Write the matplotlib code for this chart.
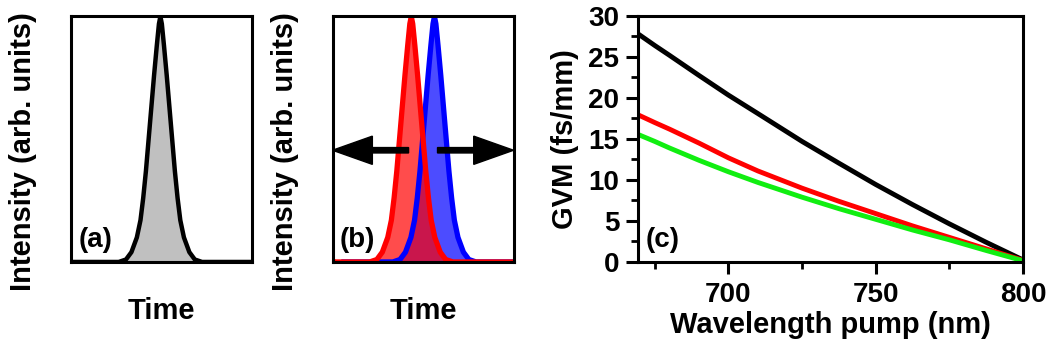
import numpy as np
import matplotlib
matplotlib.use("Agg")
import matplotlib.pyplot as plt
from matplotlib.ticker import MultipleLocator

plt.rcParams['font.family'] = ['Liberation Sans', 'DejaVu Sans']
plt.rcParams['font.weight'] = 'bold'

# pulse profile (offset from pulse centre, normalised intensity)
pulse_offset = [-0.50, -0.23, -0.19, -0.16, -0.13, -0.11, -0.095, -0.08, -0.065,
                -0.05, -0.035, -0.02, -0.008, 0.0, 0.008, 0.02, 0.035, 0.05,
                0.065, 0.08, 0.095, 0.11, 0.13, 0.16, 0.19, 0.23, 0.50]
pulse_int = [0.0, 0.0, 0.01, 0.04, 0.10, 0.17, 0.26, 0.37, 0.50,
             0.63, 0.76, 0.88, 0.97, 1.0, 0.97, 0.88, 0.76, 0.63,
             0.50, 0.37, 0.26, 0.17, 0.10, 0.04, 0.01, 0.0, 0.0]
centre_a = 0.494
centre_red = 0.435
centre_blue = 0.563

# panel (c): group velocity mismatch vs pump wavelength
wavelength = [669, 675, 680, 690, 700, 710, 725, 737.5, 750, 762.5, 775, 787.5, 800]
gvm_black = [27.9, 26.4, 25.2, 22.75, 20.35, 18.1, 14.7, 12.05, 9.45, 7.0, 4.65, 2.4, 0.25]
gvm_red = [18.0, 17.0, 16.2, 14.5, 12.7, 11.1, 9.0, 7.4, 5.9, 4.4, 3.0, 1.6, 0.2]
gvm_green = [15.6, 14.7, 13.9, 12.4, 11.0, 9.7, 7.9, 6.5, 5.2, 3.9, 2.7, 1.4, 0.15]

fig = plt.figure(figsize=(10.53, 3.54), dpi=100)
ax_a = fig.add_axes([0.0674, 0.26, 0.1719, 0.6935])
ax_b = fig.add_axes([0.3158, 0.26, 0.1719, 0.6935])
ax_c = fig.add_axes([0.6059, 0.26, 0.3656, 0.6948])

off = np.array(pulse_offset)
inten = np.array(pulse_int)

# (a)
ax_a.fill_between(off + centre_a, inten, color='#c0c0c0', lw=0)
ax_a.plot(off + centre_a, inten, color='black', lw=3.2, solid_joinstyle='round')

# (b)
ax_b.fill_between(off + centre_blue, inten, color='blue', alpha=0.7, lw=0)
ax_b.plot(off + centre_blue, inten, color='blue', lw=3.8)
ax_b.fill_between(off + centre_red, inten, color='red', alpha=0.7, lw=0)
ax_b.plot(np.concatenate([[0.0], off + centre_red, [1.0]]),
          np.concatenate([[0.0], inten, [0.0]]), color='red', lw=3.8)
ax_b.arrow(0.42, 0.455, -0.42, 0, width=0.022, head_width=0.115, head_length=0.22,
           length_includes_head=True, color='black', clip_on=False, zorder=5)
ax_b.arrow(0.58, 0.455, 0.42, 0, width=0.022, head_width=0.115, head_length=0.22,
           length_includes_head=True, color='black', clip_on=False, zorder=5)

for ax, tag in [(ax_a, '(a)'), (ax_b, '(b)')]:
    ax.set_xlim(0, 1)
    ax.set_ylim(0, 1.0)
    ax.set_xticks([])
    ax.set_yticks([])
    for s in ax.spines.values():
        s.set_linewidth(2.2)
    ax.set_xlabel('Time', fontsize=21, fontweight='bold')
    ax.xaxis.set_label_coords(0.5, -0.20)
    ax.xaxis.label.set_va('center')
    ax.set_ylabel('Intensity (arb. units)', fontsize=21, fontweight='bold')
    ax.yaxis.set_label_coords(-0.265, 0.45)
    ax.yaxis.label.set_va('center')
    ax.text(0.04, 0.035, tag, transform=ax.transAxes, fontsize=20, fontweight='bold',
            ha='left', va='bottom')

# (c)
ax_c.plot(wavelength, gvm_black, color='black', lw=3.5)
ax_c.plot(wavelength, gvm_red, color='red', lw=3.5)
ax_c.plot(wavelength, gvm_green, color='#11ee11', lw=3.5)
ax_c.set_xlim(669.3, 800)
ax_c.set_ylim(0, 30)
ax_c.xaxis.set_major_locator(MultipleLocator(50))
ax_c.xaxis.set_minor_locator(MultipleLocator(25))
ax_c.yaxis.set_major_locator(MultipleLocator(5))
ax_c.yaxis.set_minor_locator(MultipleLocator(2.5))
ax_c.tick_params(which='major', direction='out', length=8.5, width=2.2, labelsize=20)
ax_c.tick_params(axis='x', which='major', pad=6)
ax_c.tick_params(axis='y', which='major', pad=5)
ax_c.tick_params(which='minor', direction='out', length=5, width=2)
for s in ax_c.spines.values():
    s.set_linewidth(2.2)
for lab in ax_c.get_xticklabels() + ax_c.get_yticklabels():
    lab.set_fontweight('bold')
ax_c.set_xlabel('Wavelength pump (nm)', fontsize=21, fontweight='bold')
ax_c.xaxis.set_label_coords(0.5, -0.256)
ax_c.xaxis.label.set_va('center')
ax_c.set_ylabel('GVM (fs/mm)', fontsize=21, fontweight='bold')
ax_c.yaxis.set_label_coords(-0.19, 0.5)
ax_c.yaxis.label.set_va('center')
ax_c.text(0.02, 0.035, '(c)', transform=ax_c.transAxes, fontsize=20, fontweight='bold',
          ha='left', va='bottom')

fig.savefig('out.png', dpi=100)
